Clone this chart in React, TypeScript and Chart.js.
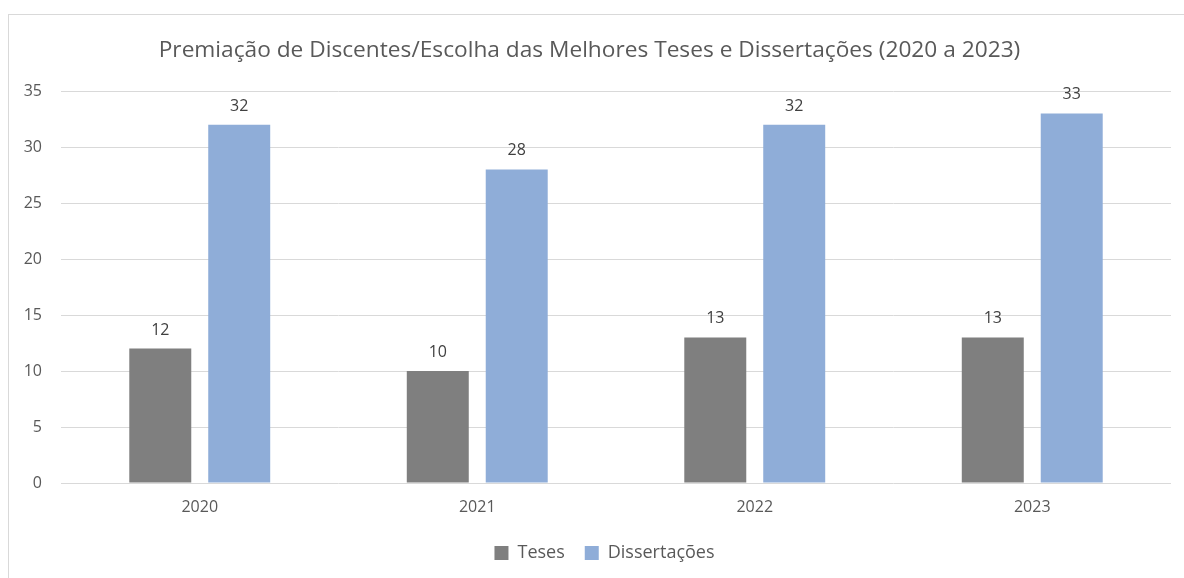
import React, { useEffect, useRef } from "react";
import { Chart, registerables } from "chart.js";

Chart.register(...registerables);

const categories = ["2020", "2021", "2022", "2023"];
const tesesValues = [12, 10, 13, 13];
const dissertacoesValues = [32, 28, 32, 33];
const seriesNames = ["Teses", "Dissertações"];
const titleText = "Premiação de Discentes/Escolha das Melhores Teses e Dissertações (2020 a 2023)";

const FONT = "'Open Sans', 'DejaVu Sans', sans-serif";
const TEXT = "#595959";

const valueLabels = {
  id: "valueLabels",
  afterDatasetsDraw(chart: any) {
    const ctx = chart.ctx;
    ctx.save();
    ctx.font = `16px ${FONT}`;
    ctx.fillStyle = "#404040";
    ctx.textAlign = "center";
    ctx.textBaseline = "alphabetic";
    chart.data.datasets.forEach((ds: any, i: number) => {
      const meta = chart.getDatasetMeta(i);
      meta.data.forEach((bar: any, j: number) => {
        ctx.fillText(String(ds.data[j]), bar.x, bar.y - 14);
      });
    });
    ctx.restore();
  },
};

const legendShift = {
  id: "legendShift",
  afterLayout(chart: any) {
    if (chart.legend) {
      chart.legend.left += 30;
      chart.legend.top += 3;
      chart.legend.bottom += 3;
    }
  },
};

export default function App() {
  const ref = useRef<HTMLCanvasElement>(null);
  useEffect(() => {
    if (!ref.current) return;
    const chart = new Chart(ref.current, {
      type: "bar",
      data: {
        labels: categories,
        datasets: [
          { label: seriesNames[0], data: tesesValues, backgroundColor: "#7f7f7f" },
          { label: seriesNames[1], data: dissertacoesValues, backgroundColor: "#8fadd8" },
        ],
      },
      options: {
        responsive: false,
        animation: false,
        layout: { padding: { left: 8, right: 13, top: 0, bottom: 9 } },
        datasets: { bar: { categoryPercentage: 0.569, barPercentage: 0.785 } },
        plugins: {
          title: {
            display: true,
            text: titleText,
            color: TEXT,
            font: { family: FONT, size: 22.7, weight: "normal" },
            padding: { top: 36.5, bottom: 27.3 },
          },
          legend: {
            position: "bottom",
            labels: {
              color: TEXT,
              font: { family: FONT, size: 18 },
              boxWidth: 14,
              boxHeight: 14,
              padding: 20,
            },
          },
          tooltip: { enabled: false },
        },
        scales: {
          x: {
            grid: { display: false, drawTicks: false },
            border: { display: false },
            ticks: { color: TEXT, font: { family: FONT, size: 16 }, padding: 15 },
            afterFit: (s: any) => { s.height = 38; },
          },
          y: {
            min: 0,
            max: 35,
            ticks: { stepSize: 5, color: TEXT, font: { family: FONT, size: 16 }, padding: 19 },
            grid: { color: "#d9d9d9", drawTicks: false, lineWidth: 1 },
            border: { display: false },
            afterFit: (s: any) => { s.width = 53; },
          },
        },
      },
      plugins: [valueLabels, legendShift],
    });
    return () => chart.destroy();
  }, []);
  return (
    <div style={{ position: "fixed", left: 0, top: 0, width: 1184, height: 578, background: "#fff", overflow: "hidden" }}>
      <div style={{ position: "absolute", left: 8, top: 14, width: 1200, height: 620, border: "1px solid #d9d9d9", boxSizing: "border-box" }} />
      <canvas ref={ref} width={1184} height={578} style={{ position: "absolute", left: 0, top: 0, width: 1184, height: 578 }} />
    </div>
  );
}
